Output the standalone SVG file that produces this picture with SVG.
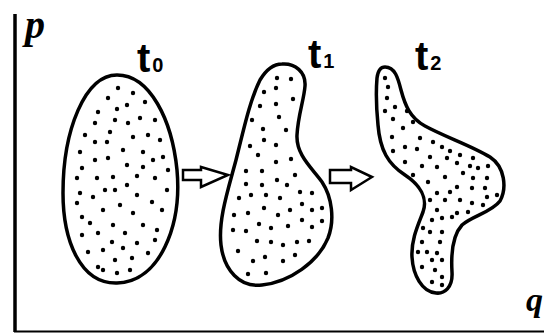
<svg xmlns="http://www.w3.org/2000/svg" width="544" height="333" viewBox="0 0 544 333">
<style>
.blob{fill:#fff;stroke:#000;stroke-width:3.5;stroke-linejoin:round}
.d{fill:#000}
.arrow{fill:#fff;stroke:#000;stroke-width:2.5;stroke-linejoin:miter}
.axis{stroke:#000;fill:none}
.lbl{font-family:"Liberation Sans",Arial,sans-serif;font-weight:bold;fill:#000}
.sub{font-size:20px;font-weight:bold}
.var{font-family:"Liberation Serif","Times New Roman",serif;font-style:italic;font-weight:bold;fill:#000}
</style>
<rect width="544" height="333" fill="#fff"/>
<g id="axes">
<line class="axis" x1="15" y1="14" x2="15" y2="332" stroke-width="3.5"/>
<line class="axis" x1="14" y1="331.5" x2="544" y2="331.5" stroke-width="2"/>
<text class="var" x="25" y="38" font-size="40">p</text>
<text class="var" x="526" y="311" font-size="34">q</text>
</g>
<g id="state-t0">
<path class="blob" d="M117,75 C150,75 172,120 177,170 C182,225 160,282 117,283 C80,284 63,240 63,193 C63,130 85,75 117,75 Z"/>
<g class="d">
<circle cx="118" cy="88" r="2.2"/><circle cx="108" cy="98" r="2.2"/><circle cx="133" cy="93" r="2.2"/>
<circle cx="127" cy="105" r="2.2"/><circle cx="145" cy="102" r="2.2"/><circle cx="117" cy="109" r="2.2"/>
<circle cx="98" cy="112" r="2.2"/><circle cx="115" cy="120" r="2.2"/><circle cx="128" cy="123" r="2.2"/>
<circle cx="140" cy="118" r="2.2"/><circle cx="155" cy="120" r="2.2"/><circle cx="95" cy="123" r="2.2"/>
<circle cx="110" cy="132" r="2.2"/><circle cx="133" cy="137" r="2.2"/><circle cx="148" cy="135" r="2.2"/>
<circle cx="160" cy="140" r="2.2"/><circle cx="85" cy="135" r="2.2"/><circle cx="95" cy="142" r="2.2"/>
<circle cx="107" cy="142" r="2.2"/><circle cx="123" cy="150" r="2.2"/><circle cx="143" cy="152" r="2.2"/>
<circle cx="153" cy="160" r="2.2"/><circle cx="163" cy="157" r="2.2"/><circle cx="80" cy="152" r="2.2"/>
<circle cx="95" cy="160" r="2.2"/><circle cx="108" cy="158" r="2.2"/><circle cx="127" cy="165" r="2.2"/>
<circle cx="143" cy="167" r="2.2"/><circle cx="82" cy="168" r="2.2"/><circle cx="168" cy="170" r="2.2"/>
<circle cx="155" cy="178" r="2.2"/><circle cx="137" cy="176" r="2.2"/><circle cx="77" cy="178" r="2.2"/>
<circle cx="97" cy="178" r="2.2"/><circle cx="113" cy="177" r="2.2"/><circle cx="127" cy="185" r="2.2"/>
<circle cx="105" cy="190" r="2.2"/><circle cx="115" cy="190" r="2.2"/><circle cx="80" cy="193" r="2.2"/>
<circle cx="93" cy="197" r="2.2"/><circle cx="137" cy="195" r="2.2"/><circle cx="152" cy="202" r="2.2"/>
<circle cx="167" cy="190" r="2.2"/><circle cx="120" cy="205" r="2.2"/><circle cx="77" cy="203" r="2.2"/>
<circle cx="103" cy="210" r="2.2"/><circle cx="133" cy="213" r="2.2"/><circle cx="162" cy="210" r="2.2"/>
<circle cx="82" cy="217" r="2.2"/><circle cx="90" cy="223" r="2.2"/><circle cx="113" cy="225" r="2.2"/>
<circle cx="143" cy="225" r="2.2"/><circle cx="157" cy="230" r="2.2"/><circle cx="98" cy="233" r="2.2"/>
<circle cx="125" cy="233" r="2.2"/><circle cx="82" cy="235" r="2.2"/><circle cx="112" cy="242" r="2.2"/>
<circle cx="137" cy="243" r="2.2"/><circle cx="155" cy="240" r="2.2"/><circle cx="88" cy="252" r="2.2"/>
<circle cx="103" cy="250" r="2.2"/><circle cx="123" cy="248" r="2.2"/><circle cx="148" cy="253" r="2.2"/>
<circle cx="98" cy="267" r="2.2"/><circle cx="115" cy="260" r="2.2"/><circle cx="132" cy="258" r="2.2"/>
<circle cx="117" cy="273" r="2.2"/><circle cx="130" cy="270" r="2.2"/><circle cx="103" cy="270" r="2.2"/>
</g>
<text class="lbl" x="137" y="72" font-size="40">t<tspan class="sub" dx="2">0</tspan></text>
</g>
<g id="state-t1">
<path class="blob" d="M282,64 C295,63 306,72 305,86 C304,100 298,115 297,135 C296,155 312,168 322,182 C332,197 335,220 328,238 C318,262 290,282 262,285 C240,288 224,270 221,245 C218,220 228,190 236,160 C244,128 250,100 260,80 C266,70 274,64 282,64 Z"/>
<g class="d">
<circle cx="277" cy="78" r="2.2"/><circle cx="291" cy="79" r="2.2"/><circle cx="264" cy="92" r="2.2"/>
<circle cx="276" cy="88" r="2.2"/><circle cx="293" cy="99" r="2.2"/><circle cx="276" cy="104" r="2.2"/>
<circle cx="260" cy="106" r="2.2"/><circle cx="279" cy="117" r="2.2"/><circle cx="252" cy="120" r="2.2"/>
<circle cx="263" cy="129" r="2.2"/><circle cx="286" cy="130" r="2.2"/><circle cx="264" cy="140" r="2.2"/>
<circle cx="276" cy="145" r="2.2"/><circle cx="250" cy="146" r="2.2"/><circle cx="258" cy="155" r="2.2"/>
<circle cx="276" cy="162" r="2.2"/><circle cx="291" cy="159" r="2.2"/><circle cx="246" cy="171" r="2.2"/>
<circle cx="262" cy="171" r="2.2"/><circle cx="295" cy="175" r="2.2"/><circle cx="277" cy="180" r="2.2"/>
<circle cx="246" cy="184" r="2.2"/><circle cx="262" cy="185" r="2.2"/><circle cx="287" cy="185" r="2.2"/>
<circle cx="239" cy="198" r="2.2"/><circle cx="251" cy="195" r="2.2"/><circle cx="266" cy="195" r="2.2"/>
<circle cx="280" cy="198" r="2.2"/><circle cx="300" cy="192" r="2.2"/><circle cx="312" cy="193" r="2.2"/>
<circle cx="302" cy="204" r="2.2"/><circle cx="264" cy="208" r="2.2"/><circle cx="290" cy="210" r="2.2"/>
<circle cx="312" cy="210" r="2.2"/><circle cx="322" cy="208" r="2.2"/><circle cx="248" cy="213" r="2.2"/>
<circle cx="234" cy="215" r="2.2"/><circle cx="278" cy="215" r="2.2"/><circle cx="302" cy="220" r="2.2"/>
<circle cx="322" cy="221" r="2.2"/><circle cx="259" cy="224" r="2.2"/><circle cx="271" cy="228" r="2.2"/>
<circle cx="288" cy="226" r="2.2"/><circle cx="312" cy="227" r="2.2"/><circle cx="233" cy="230" r="2.2"/>
<circle cx="246" cy="231" r="2.2"/><circle cx="257" cy="241" r="2.2"/><circle cx="271" cy="242" r="2.2"/>
<circle cx="283" cy="245" r="2.2"/><circle cx="297" cy="242" r="2.2"/><circle cx="309" cy="241" r="2.2"/>
<circle cx="238" cy="251" r="2.2"/><circle cx="265" cy="257" r="2.2"/><circle cx="295" cy="255" r="2.2"/>
<circle cx="253" cy="261" r="2.2"/><circle cx="283" cy="261" r="2.2"/><circle cx="248" cy="274" r="2.2"/>
<circle cx="266" cy="273" r="2.2"/>
</g>
<text class="lbl" x="308" y="68" font-size="40">t<tspan class="sub" dx="2">1</tspan></text>
</g>
<g id="state-t2">
<path class="blob" d="M385,67 C395,67 398,78 401,90 C405,105 410,118 425,126 C445,137 470,145 490,157 C505,167 507,188 500,201 C492,212 472,216 462,225 C452,236 451,255 452,272 C453,288 444,294 436,293 C422,292 413,275 412,257 C411,240 418,225 423,212 C428,198 420,185 405,175 C388,164 380,150 378,125 C376,105 376,90 377,78 C378,70 381,67 385,67 Z"/>
<g class="d">
<circle cx="385" cy="78" r="2.2"/><circle cx="388" cy="87" r="2.2"/><circle cx="387" cy="98" r="2.2"/>
<circle cx="395" cy="107" r="2.2"/><circle cx="385" cy="111" r="2.2"/><circle cx="407" cy="111" r="2.2"/>
<circle cx="393" cy="119" r="2.2"/><circle cx="403" cy="128" r="2.2"/><circle cx="413" cy="122" r="2.2"/>
<circle cx="392" cy="137" r="2.2"/><circle cx="420" cy="138" r="2.2"/><circle cx="433" cy="142" r="2.2"/>
<circle cx="442" cy="147" r="2.2"/><circle cx="405" cy="147" r="2.2"/><circle cx="393" cy="151" r="2.2"/>
<circle cx="417" cy="149" r="2.2"/><circle cx="450" cy="151" r="2.2"/><circle cx="430" cy="157" r="2.2"/>
<circle cx="447" cy="158" r="2.2"/><circle cx="460" cy="155" r="2.2"/><circle cx="473" cy="158" r="2.2"/>
<circle cx="405" cy="162" r="2.2"/><circle cx="422" cy="166" r="2.2"/><circle cx="437" cy="167" r="2.2"/>
<circle cx="457" cy="163" r="2.2"/><circle cx="470" cy="166" r="2.2"/><circle cx="478" cy="168" r="2.2"/>
<circle cx="488" cy="166" r="2.2"/><circle cx="413" cy="175" r="2.2"/><circle cx="428" cy="182" r="2.2"/>
<circle cx="445" cy="177" r="2.2"/><circle cx="463" cy="173" r="2.2"/><circle cx="473" cy="178" r="2.2"/>
<circle cx="487" cy="178" r="2.2"/><circle cx="457" cy="187" r="2.2"/><circle cx="472" cy="188" r="2.2"/>
<circle cx="485" cy="188" r="2.2"/><circle cx="497" cy="195" r="2.2"/><circle cx="437" cy="193" r="2.2"/>
<circle cx="450" cy="192" r="2.2"/><circle cx="487" cy="197" r="2.2"/><circle cx="430" cy="200" r="2.2"/>
<circle cx="445" cy="200" r="2.2"/><circle cx="460" cy="200" r="2.2"/><circle cx="472" cy="203" r="2.2"/>
<circle cx="483" cy="205" r="2.2"/><circle cx="437" cy="210" r="2.2"/><circle cx="457" cy="213" r="2.2"/>
<circle cx="468" cy="212" r="2.2"/><circle cx="432" cy="220" r="2.2"/><circle cx="442" cy="218" r="2.2"/>
<circle cx="452" cy="217" r="2.2"/><circle cx="423" cy="228" r="2.2"/><circle cx="442" cy="232" r="2.2"/>
<circle cx="430" cy="232" r="2.2"/><circle cx="440" cy="242" r="2.2"/><circle cx="422" cy="242" r="2.2"/>
<circle cx="427" cy="252" r="2.2"/><circle cx="437" cy="253" r="2.2"/><circle cx="418" cy="252" r="2.2"/>
<circle cx="432" cy="260" r="2.2"/><circle cx="442" cy="260" r="2.2"/><circle cx="422" cy="267" r="2.2"/>
<circle cx="435" cy="270" r="2.2"/><circle cx="442" cy="277" r="2.2"/><circle cx="432" cy="282" r="2.2"/>
<circle cx="442" cy="285" r="2.2"/>
</g>
<text class="lbl" x="415" y="70" font-size="40">t<tspan class="sub" dx="2">2</tspan></text>
</g>
<g id="connectors">
<path class="arrow" d="M183,170 L201,170 L201,167 L228,175 L201,187 L201,180 L183,180 Z"/>
<path class="arrow" d="M330,170 L351,170 L351,167 L372,177 L351,190 L351,183 L330,183 Z"/>
</g>
</svg>
